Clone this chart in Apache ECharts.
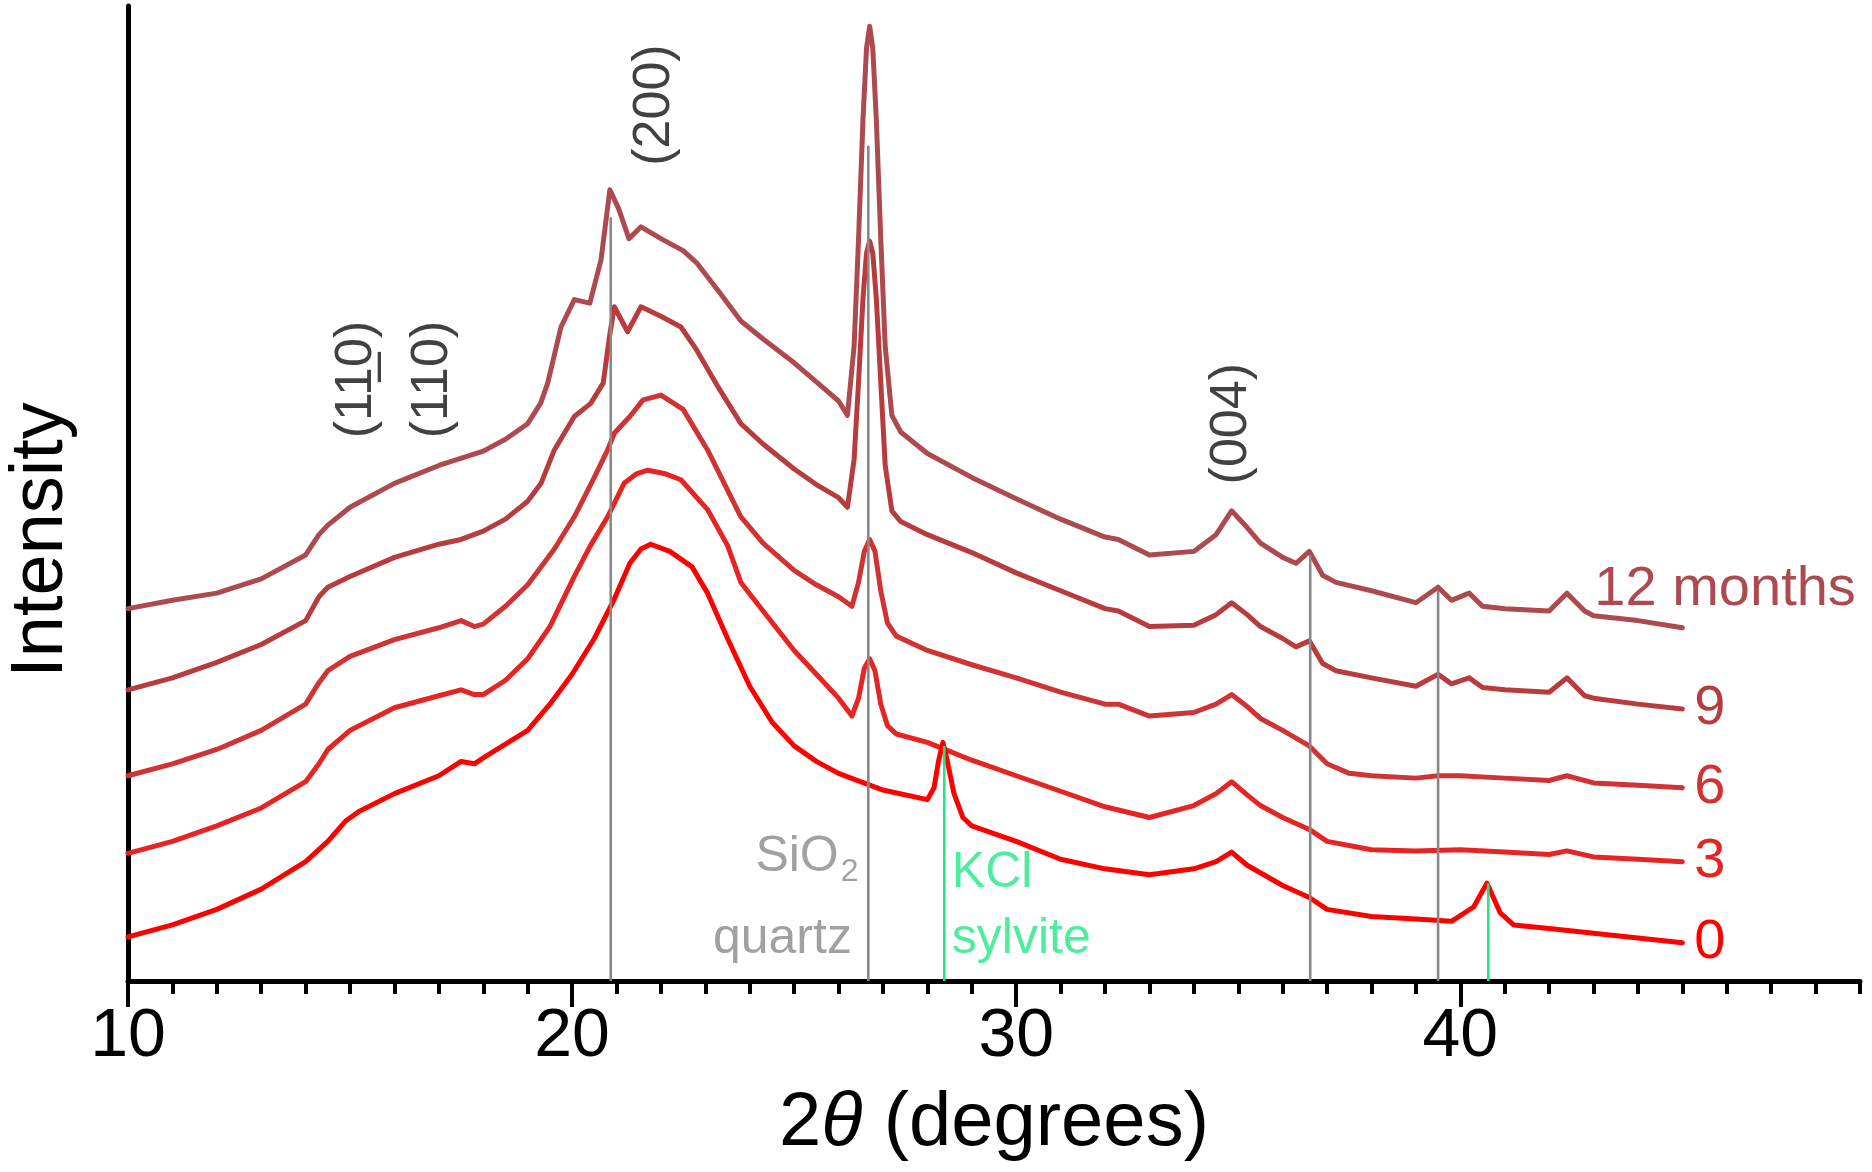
<!DOCTYPE html>
<html><head><meta charset="utf-8">
<script src="https://cdn.jsdelivr.net/npm/echarts@6/dist/echarts.min.js"></script>
<style>html,body{margin:0;padding:0;background:#fff}#c{width:1872px;height:1172px}</style>
</head><body><div id="c"></div>
<script>
// ---- data (2θ in degrees, intensity in arbitrary offset units) ----
const x12 = [10,11,12,13,14,14.3,14.5,15,16,17,18,18.5,19,19.29,19.45,19.75,20.05,20.4,20.65,20.85,21.05,21.28,21.55,22.05,22.5,22.8,23.3,23.8,24.3,25,25.5,26,26.2,26.35,26.45,26.55,26.63,26.7,26.77,26.85,26.95,27.05,27.2,27.4,28,29,30,31,32,32.3,33,34,34.5,34.85,35.2,35.5,36,36.3,36.6,36.9,37.2,38,39,39.5,39.8,40.2,40.5,41,42,42.4,42.8,43,44,45];
const y12 = [312,319,325,337,357,374,382,397,417,432,444,454,467,484,501,548,571,568,604,663,647,622,632,621,612,602,578,553,538,518,502,486,474,532,622,722,782,800,782,722,622,532,474,460,442,422,404,387,372,370,357,360,374,394,380,367,355,350,360,340,334,327,317,330,319,325,314,312,310,325,310,306,302,296];

const x9 = [10,11,12,13,14,14.3,14.5,15,16,17,17.5,18,18.5,19,19.3,19.6,20.05,20.42,20.7,20.85,20.95,21.25,21.55,22,22.45,22.8,23.3,23.8,24.3,25,25.5,26,26.2,26.35,26.45,26.55,26.63,26.7,26.77,26.85,26.95,27.05,27.2,27.4,28,29,30,31,32,32.3,33,34,34.5,34.85,35.2,35.5,36,36.3,36.6,36.9,37.2,38,39,39.5,39.8,40.2,40.5,41,42,42.4,42.8,43,44,45];
const y9 = [244,254,267,282,302,322,330,339,355,366,370,377,387,402,417,445,473,484,501,542,565,544,565,557,548,529,497,467,450,429,416,405,397,437,502,572,610,620,610,572,502,432,394,385,374,359,342,327,312,310,297,298,307,317,307,297,287,280,285,266,260,254,247,257,249,254,246,244,242,254,239,237,232,228];

const x6 = [10,11,12,13,14,14.3,14.5,15,16,17,17.5,17.8,18,18.5,19,19.3,19.6,20.05,20.5,20.8,20.95,21.3,21.6,22,22.5,23.05,23.8,24.3,25,25.5,26,26.3,26.45,26.58,26.7,26.82,26.95,27.1,27.3,28,29,30,31,32,32.3,33,34,34.5,34.85,35.2,35.5,36,36.6,37,37.5,38,39,39.5,40,41,42,42.4,43,44,45];
const y6 = [172,182,194,210,232,250,260,272,286,296,302,297,299,314,332,347,362,389,422,445,459,473,487,491,479,445,389,367,344,332,322,314,334,360,370,360,327,300,289,277,265,254,242,232,232,222,225,232,240,230,220,210,197,182,174,172,170,172,172,170,168,172,166,164,162];

const x3 = [10,11,12,13,14,14.3,14.5,15,16,17,17.5,17.8,18,18.5,19,19.5,20.05,20.4,20.8,21.17,21.45,21.7,22.1,22.45,23.05,23.5,23.8,24.3,25,25.5,26,26.3,26.45,26.58,26.7,26.82,26.95,27.1,27.3,28,29,30,31,32,33,34,34.5,34.85,35.2,35.5,36,36.6,37,38,39,40,41,42,42.4,43,44,45];
const y3 = [107,117,130,145,167,182,194,210,229,239,244,240,240,252,270,297,339,364,389,417,425,428,425,420,395,365,334,310,277,257,237,222,237,262,270,260,232,214,207,200,185,172,159,146,137,147,157,167,156,147,137,127,117,110,109,110,108,106,109,104,102,100];

const x0 = [10,11,12,13,14,14.5,14.9,15.2,16,17,17.5,17.8,18,19,19.5,20,20.5,20.95,21.3,21.55,21.77,22.2,22.7,23.05,23.5,24,24.5,25,25.5,26,27,28,28.15,28.25,28.35,28.45,28.6,28.8,29,30,31,32,33,34,34.5,34.85,35.2,36,36.6,37,38,39,39.8,40.3,40.6,40.9,41.2,42,43,44,45];
const y0 = [37,47,60,77,100,117,134,142,157,172,184,182,187,210,232,257,287,320,350,362,366,360,347,325,287,247,217,197,184,174,160,152,162,184,200,184,157,137,130,117,102,94,89,94,100,108,97,80,70,60,54,52,50,62,82,57,47,44,40,36,32];

const seriesNames = ['12 months','9','6','3','0'];
const seriesColors = ['#ad4a4f','#b83b3d','#cf3333','#e62424','#ff0000'];

// reference lines: quartz (SiO2) and sylvite (KCl)
const quartzX = [20.87, 26.67, 36.62, 39.5];
const quartzTop = [640, 700, 357, 327];
const kclX = [28.38, 40.63];
const kclTop = [197, 82];

const xTicks = [10, 20, 30, 40];

// ---- chart ----
const FONT = "'Liberation Sans', Arial, sans-serif";
const chart = echarts.init(document.getElementById('c'), null, {renderer: 'canvas'});
const xs = [x12, x9, x6, x3, x0];
const ys = [y12, y9, y6, y3, y0];

const pair = (xa, ya) => xa.map((v, i) => [v, ya[i]]);

const curveSeries = seriesNames.map((name, k) => ({
  name: name,
  type: 'line',
  data: pair(xs[k], ys[k]),
  showSymbol: false,
  symbol: 'none',
  smooth: false,
  z: 3,
  lineStyle: {color: seriesColors[k], width: 5, join: 'round', cap: 'round'},
  endLabel: {
    show: true,
    formatter: name,
    color: seriesColors[k],
    fontSize: 56,
    fontFamily: FONT,
    distance: 12,
    offset: k === 0 ? [-100, -38] : [0, 0]
  }
}));

const refSeries = [];
quartzX.forEach((x, i) => refSeries.push({
  type: 'line', data: [[x, 0], [x, quartzTop[i]]], symbol: 'none', z: 4, silent: true,
  lineStyle: {color: '#888888', width: 2.6}
}));
kclX.forEach((x, i) => refSeries.push({
  type: 'line', data: [[x, 0], [x, kclTop[i]]], symbol: 'none', z: 4, silent: true,
  lineStyle: {color: '#22e884', width: 2.6}
}));

const annStyle = {fontSize: 52, fontFamily: FONT, color: '#111'};
const annSeries = {
  type: 'scatter', symbolSize: 0, z: 5, silent: true,
  data: [
    {value: [21.87, 734], label: Object.assign({show: true, position: 'inside', rotate: 90, formatter: '(200)'}, annStyle)},
    {value: [15.14, 504], label: Object.assign({show: true, position: 'inside', rotate: 90, formatter: '(11\u03320)'}, annStyle)},
    {value: [16.86, 504], label: Object.assign({show: true, position: 'inside', rotate: 90, formatter: '(110)'}, annStyle)},
    {value: [34.85, 467], label: Object.assign({show: true, position: 'inside', rotate: 90, formatter: '(004)'}, annStyle)},
    {value: [26.45, 104], label: {show: true, position: 'left', distance: 0, formatter: 'SiO{s|2}', fontSize: 50, fontFamily: FONT, color: '#8a8a8a',
      rich: {s: {fontSize: 32, fontFamily: FONT, color: '#8a8a8a', padding: [30, 0, 0, 2]}}}},
    {value: [26.30, 35], label: {show: true, position: 'left', distance: 0, formatter: 'quartz', fontSize: 50, fontFamily: FONT, color: '#8a8a8a'}},
    {value: [28.55, 90], label: {show: true, position: 'right', distance: 0, formatter: 'KCl', fontSize: 50, fontFamily: FONT, color: '#22e884'}},
    {value: [28.55, 35], label: {show: true, position: 'right', distance: 0, formatter: 'sylvite', fontSize: 50, fontFamily: FONT, color: '#22e884'}}
  ]
};

chart.setOption({
  animation: false,
  backgroundColor: '#fff',
  grid: {left: 128, right: 12, top: 6, bottom: 191, containLabel: false},
  xAxis: [
    {
      type: 'value', min: 10, max: 49, interval: 1, position: 'bottom',
      axisLine: {show: true, lineStyle: {color: '#000', width: 5}},
      axisTick: {show: true, inside: false, length: 13, lineStyle: {color: '#000', width: 4}},
      axisLabel: {show: false},
      splitLine: {show: false}
    },
    {
      type: 'value', min: 10, max: 49, position: 'bottom',
      axisLine: {show: false},
      axisTick: {show: true, inside: false, length: 26, customValues: xTicks, lineStyle: {color: '#000', width: 4}},
      axisLabel: {show: true, customValues: xTicks, fontSize: 68, color: '#000', fontFamily: FONT, margin: 22},
      splitLine: {show: false},
      name: '2{i|θ} (degrees)',
      nameLocation: 'middle',
      nameGap: 105,
      nameTextStyle: {fontSize: 76, color: '#000', fontFamily: FONT,
        rich: {i: {fontSize: 76, fontStyle: 'italic', fontFamily: FONT, color: '#000'}}}
    }
  ],
  yAxis: {
    type: 'value', min: 0, max: 817,
    axisLine: {show: true, lineStyle: {color: '#000', width: 5}},
    axisTick: {show: false}, axisLabel: {show: false}, splitLine: {show: false}
  },
  graphic: [{
    type: 'text', x: 42, y: 540, rotation: Math.PI / 2,
    style: {text: 'Intensity', fontSize: 74, fontFamily: FONT, fill: '#000', align: 'center', verticalAlign: 'middle'}
  }],
  series: [...refSeries, ...curveSeries, annSeries]
});
</script></body></html>
